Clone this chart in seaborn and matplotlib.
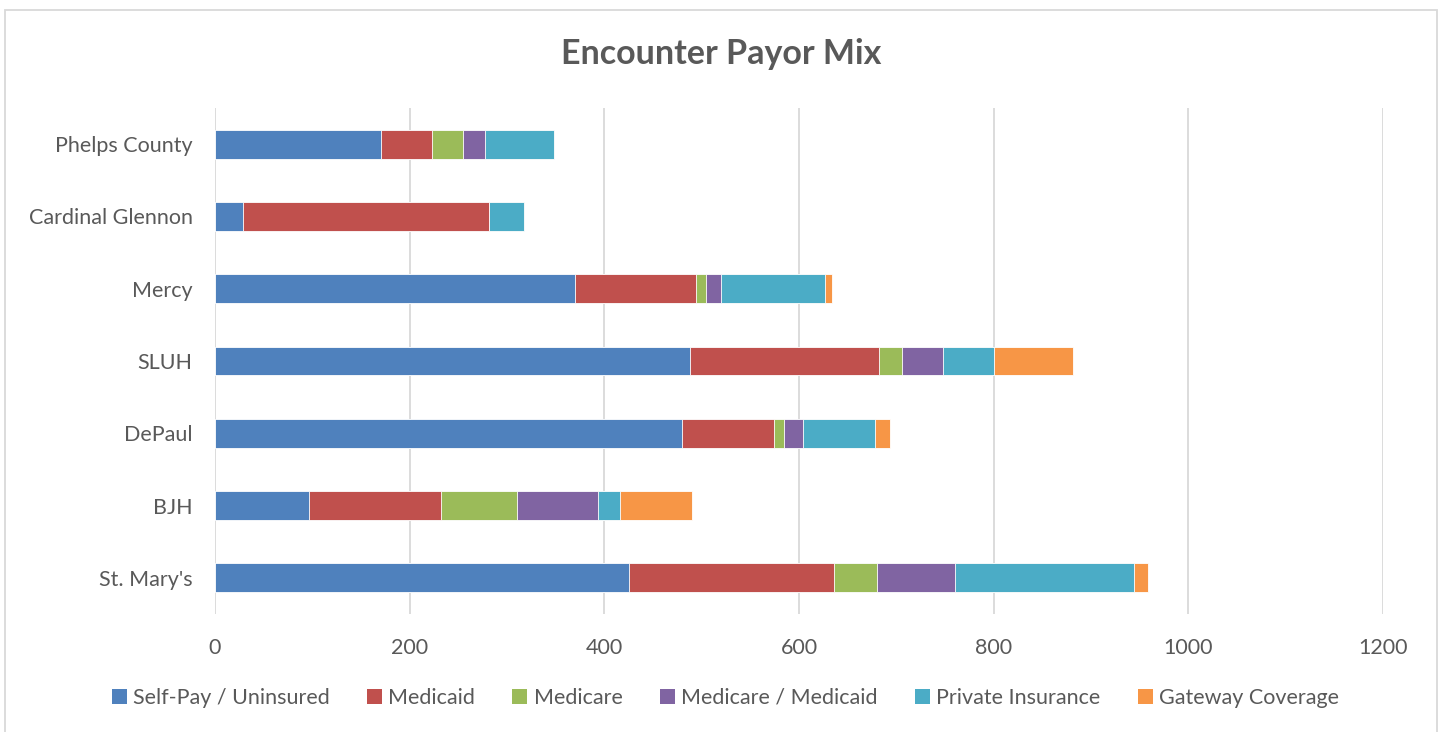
import matplotlib
matplotlib.use("Agg")
import matplotlib.pyplot as plt
from matplotlib.patches import Patch, Rectangle
import numpy as np
import pandas as pd
import seaborn as sns

hospitals = ["Phelps County", "Cardinal Glennon", "Mercy", "SLUH", "DePaul", "BJH", "St. Mary's"]
series_names = ["Self-Pay / Uninsured", "Medicaid", "Medicare", "Medicare / Medicaid",
                "Private Insurance", "Gateway Coverage"]
self_pay = [171, 29, 370, 488, 480, 97, 425]
medicaid = [52, 253, 124, 194, 94, 135, 211]
medicare = [32, 0, 10, 24, 11, 78, 44]
medicare_medicaid = [22, 0, 16, 42, 19, 83, 80]
private_ins = [71, 35, 107, 52, 74, 23, 184]
gateway = [0, 0, 7, 81, 15, 74, 15]
colors = ["#4F81BD", "#C0504D", "#9BBB59", "#8064A2", "#4BACC6", "#F79646"]
x_ticks = [0, 200, 400, 600, 800, 1000, 1200]

sns.set_theme(style="white")
plt.rcParams["font.family"] = ["Lato", "DejaVu Sans"]
text_color = "#595959"

values = [self_pay, medicaid, medicare, medicare_medicaid, private_ins, gateway]
df = pd.DataFrame({"Hospital": hospitals})
cum = np.zeros(len(hospitals))
cum_cols = []
for name, vals in zip(series_names, values):
    cum = cum + np.array(vals)
    df[name] = cum.copy()
    cum_cols.append(name)

fig = plt.figure(figsize=(14.42, 7.32), dpi=100)
ax = fig.add_axes([215 / 1442, 1 - 614 / 732, (1383 - 215) / 1442, (614 - 108) / 732])

for name, col in reversed(list(zip(cum_cols, colors))):
    sns.barplot(data=df, y="Hospital", x=name, order=hospitals, color=col,
                orient="h", width=0.4, ax=ax, saturation=1,
                edgecolor="white", linewidth=0.6)

ax.set_xlim(0, 1200)
ax.set_xticks(x_ticks)
ax.set_xticklabels([str(t) for t in x_ticks])
ax.set_xlabel("")
ax.set_ylabel("")
for s in ax.spines.values():
    s.set_visible(False)
ax.grid(axis="x", color="#D9D9D9", linewidth=1.3)
ax.grid(axis="y", visible=False)
ax.set_axisbelow(True)
ax.tick_params(axis="x", length=0, pad=17, labelsize=15.5, labelcolor=text_color)
ax.tick_params(axis="y", length=0, pad=16, labelsize=15.5, labelcolor=text_color)

fig.text(0.5, 1 - 54 / 732, "Encounter Payor Mix", ha="center", va="center",
         fontsize=24.5, fontweight="bold", color=text_color)

handles = [Patch(facecolor=c, edgecolor="none", label=n) for n, c in zip(series_names, colors)]
leg = fig.legend(handles=handles, loc="center", bbox_to_anchor=(0.503, 1 - 698 / 732),
                 ncol=6, frameon=False, fontsize=15.5, handlelength=0.7, handleheight=0.7,
                 handletextpad=0.3, columnspacing=1.72)
for t in leg.get_texts():
    t.set_color(text_color)

fig.patches.append(Rectangle((5 / 1442, -0.01), 1432 / 1442, 1 - 10 / 732 + 0.01,
                             transform=fig.transFigure, fill=False,
                             edgecolor="#D9D9D9", linewidth=1.3))

fig.savefig("out.png", dpi=100)
